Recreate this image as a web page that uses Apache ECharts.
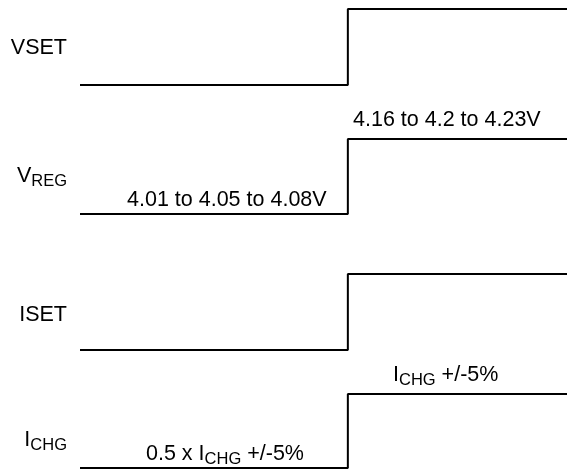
<!DOCTYPE html>
<html>
<head>
<meta charset="utf-8">
<script src="https://cdn.jsdelivr.net/npm/echarts@6/dist/echarts.min.js"></script>
<style>html,body{margin:0;padding:0;background:#fff;}#c{width:567px;height:472px;}</style>
</head>
<body>
<div id="c"></div>
<script>
// Data
const times = [0, 5.5, 10];
const vsetLevels = [0, 1, 1];
const vregLevels = [0, 1, 1];
const isetLevels = [0, 1, 1];
const ichgLevels = [0, 1, 1];
const signalLabels = ['{m|VSET}', '{m|V}{s|REG}', '{m|ISET}', '{m|I}{s|CHG}'];
const vregLowText = '{m|4.01 to 4.05 to 4.08V}';
const vregHighText = '{m|4.16 to 4.2 to 4.23V}';
const ichgLowText = '{m|0.5 x I}{s|CHG}{m| +/-5%}';
const ichgHighText = '{m|I}{s|CHG}{m| +/-5%}';

const levels = [vsetLevels, vregLevels, isetLevels, ichgLevels];
const FONT = '"Liberation Sans", Arial, sans-serif';
const rich = {
  m: { fontSize: 21.5, fontFamily: FONT, color: '#111' },
  s: { fontSize: 16.5, fontFamily: FONT, color: '#111', padding: [10, 0, 0, 0] }
};

const grids = [
  { left: 80, right: 0, top: 9, height: 76 },
  { left: 80, right: 0, top: 139, height: 75 },
  { left: 80, right: 0, top: 274, height: 76 },
  { left: 80, right: 0, top: 394, height: 74 }
];

const xAxes = grids.map((g, i) => ({ type: 'value', gridIndex: i, min: 0, max: 10, show: false }));
const yAxes = grids.map((g, i) => ({ type: 'value', gridIndex: i, min: 0, max: 1, show: false }));
const series = levels.map((lv, i) => ({
  type: 'line',
  xAxisIndex: i,
  yAxisIndex: i,
  step: 'end',
  symbol: 'none',
  clip: false,
  lineStyle: { color: '#000', width: 2 },
  data: times.map((t, k) => [t, lv[k]])
}));

function txt(text, x, y, align) {
  return {
    type: 'text', x: x, y: y,
    style: { text: text, rich: rich, align: align, verticalAlign: 'middle' }
  };
}

const labelY = [48, 176, 315, 440];
const graphics = signalLabels.map((t, i) => txt(t, 67, labelY[i], 'right'));
graphics.push(txt(vregHighText, 353, 120, 'left'));
graphics.push(txt(vregLowText, 127, 200, 'left'));
graphics.push(txt(ichgHighText, 393, 375, 'left'));
graphics.push(txt(ichgLowText, 146, 454, 'left'));

const chart = echarts.init(document.getElementById('c'));
chart.setOption({
  animation: false,
  backgroundColor: '#fff',
  grid: grids,
  xAxis: xAxes,
  yAxis: yAxes,
  series: series,
  graphic: graphics
});
</script>
</body>
</html>
